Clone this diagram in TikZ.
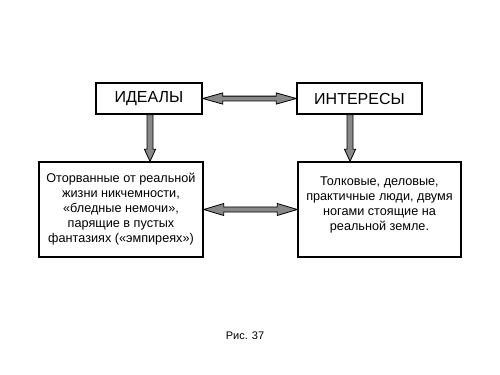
\documentclass[tikz,border=0pt]{standalone}
\usepackage{fontspec}
\setmainfont{Liberation Sans}
\usetikzlibrary{calc}
\definecolor{arrowgray}{RGB}{136,136,136}

\begin{document}
\begin{tikzpicture}[x=0.75pt, y=-0.75pt]
  \tikzset{
    box/.style={draw, line width=1.1pt, inner sep=0pt, align=center},
    fat/.style={draw=black, line width=0.6pt, fill=arrowgray},
    twoway/.style n args={3}{fat, to path={
      (\tikztostart)
      -- ($(\tikztostart)!#1!(\tikztotarget)!#2!90:(\tikztotarget)$)
      -- ($(\tikztostart)!#1!(\tikztotarget)!#3!90:(\tikztotarget)$)
      -- ($(\tikztotarget)!#1!(\tikztostart)!#3!-90:(\tikztostart)$)
      -- ($(\tikztotarget)!#1!(\tikztostart)!#2!-90:(\tikztostart)$)
      -- (\tikztotarget)
      -- ($(\tikztotarget)!#1!(\tikztostart)!#2!90:(\tikztostart)$)
      -- ($(\tikztotarget)!#1!(\tikztostart)!#3!90:(\tikztostart)$)
      -- ($(\tikztostart)!#1!(\tikztotarget)!#3!-90:(\tikztotarget)$)
      -- ($(\tikztostart)!#1!(\tikztotarget)!#2!-90:(\tikztotarget)$)
      -- cycle}},
    oneway/.style n args={3}{fat, to path={
      ($(\tikztostart)!#3!90:(\tikztotarget)$)
      -- ($(\tikztotarget)!#1!(\tikztostart)!#3!-90:(\tikztostart)$)
      -- ($(\tikztotarget)!#1!(\tikztostart)!#2!-90:(\tikztostart)$)
      -- (\tikztotarget)
      -- ($(\tikztotarget)!#1!(\tikztostart)!#2!90:(\tikztostart)$)
      -- ($(\tikztotarget)!#1!(\tikztostart)!#3!90:(\tikztostart)$)
      -- ($(\tikztostart)!#3!-90:(\tikztotarget)$)
      -- cycle}},
    small/.style={font=\fontsize{9.5}{11.25}\selectfont}
  }
  \fill[white] (0,0) rectangle (500,375);
  \useasboundingbox (0,0) rectangle (500,375);

  % top row
  \node[box, minimum width=79.5pt, minimum height=23.25pt, font=\fontsize{12}{14}\selectfont]
    (ideals) at (149,98.5) {ИДЕАЛЫ};
  \node[box, minimum width=93.75pt, minimum height=23.25pt, font=\fontsize{12}{14}\selectfont]
    (interests) at (359.5,98.5) {ИНТЕРЕСЫ};

  % bottom row
  \node[box, small, minimum width=123pt, minimum height=71.25pt]
    (dreamers) at (121,209.5) {Оторванные от реальной\\жизни никчемности,\\«бледные немочи»,\\парящие в пустых\\фантазиях («эмпиреях»)};
  \node[box, small, minimum width=122.25pt, minimum height=71.25pt]
    (realists) at (379.5,209.5) {Толковые, деловые,\\практичные люди, двумя\\ногами стоящие на\\реальной земле.\\[-3pt]};

  % arrows
  \draw[twoway={15pt}{4.2pt}{1.8pt}] (ideals.east) to (interests.west);
  \draw[twoway={15pt}{4.5pt}{1.9pt}] (dreamers.east) to (realists.west);
  \draw[oneway={9pt}{4.2pt}{2.25pt}] ([xshift=0.75pt]ideals.south) to ([xshift=0.75pt]ideals.south |- dreamers.north);
  \draw[oneway={9pt}{4.2pt}{2.25pt}] ([xshift=-7.1pt]interests.south) to ([xshift=-7.1pt]interests.south |- realists.north);

  % caption
  \node[font=\fontsize{8.25}{10}\selectfont] (caption) at (245,336) {Рис. 37};
\end{tikzpicture}
\end{document}
